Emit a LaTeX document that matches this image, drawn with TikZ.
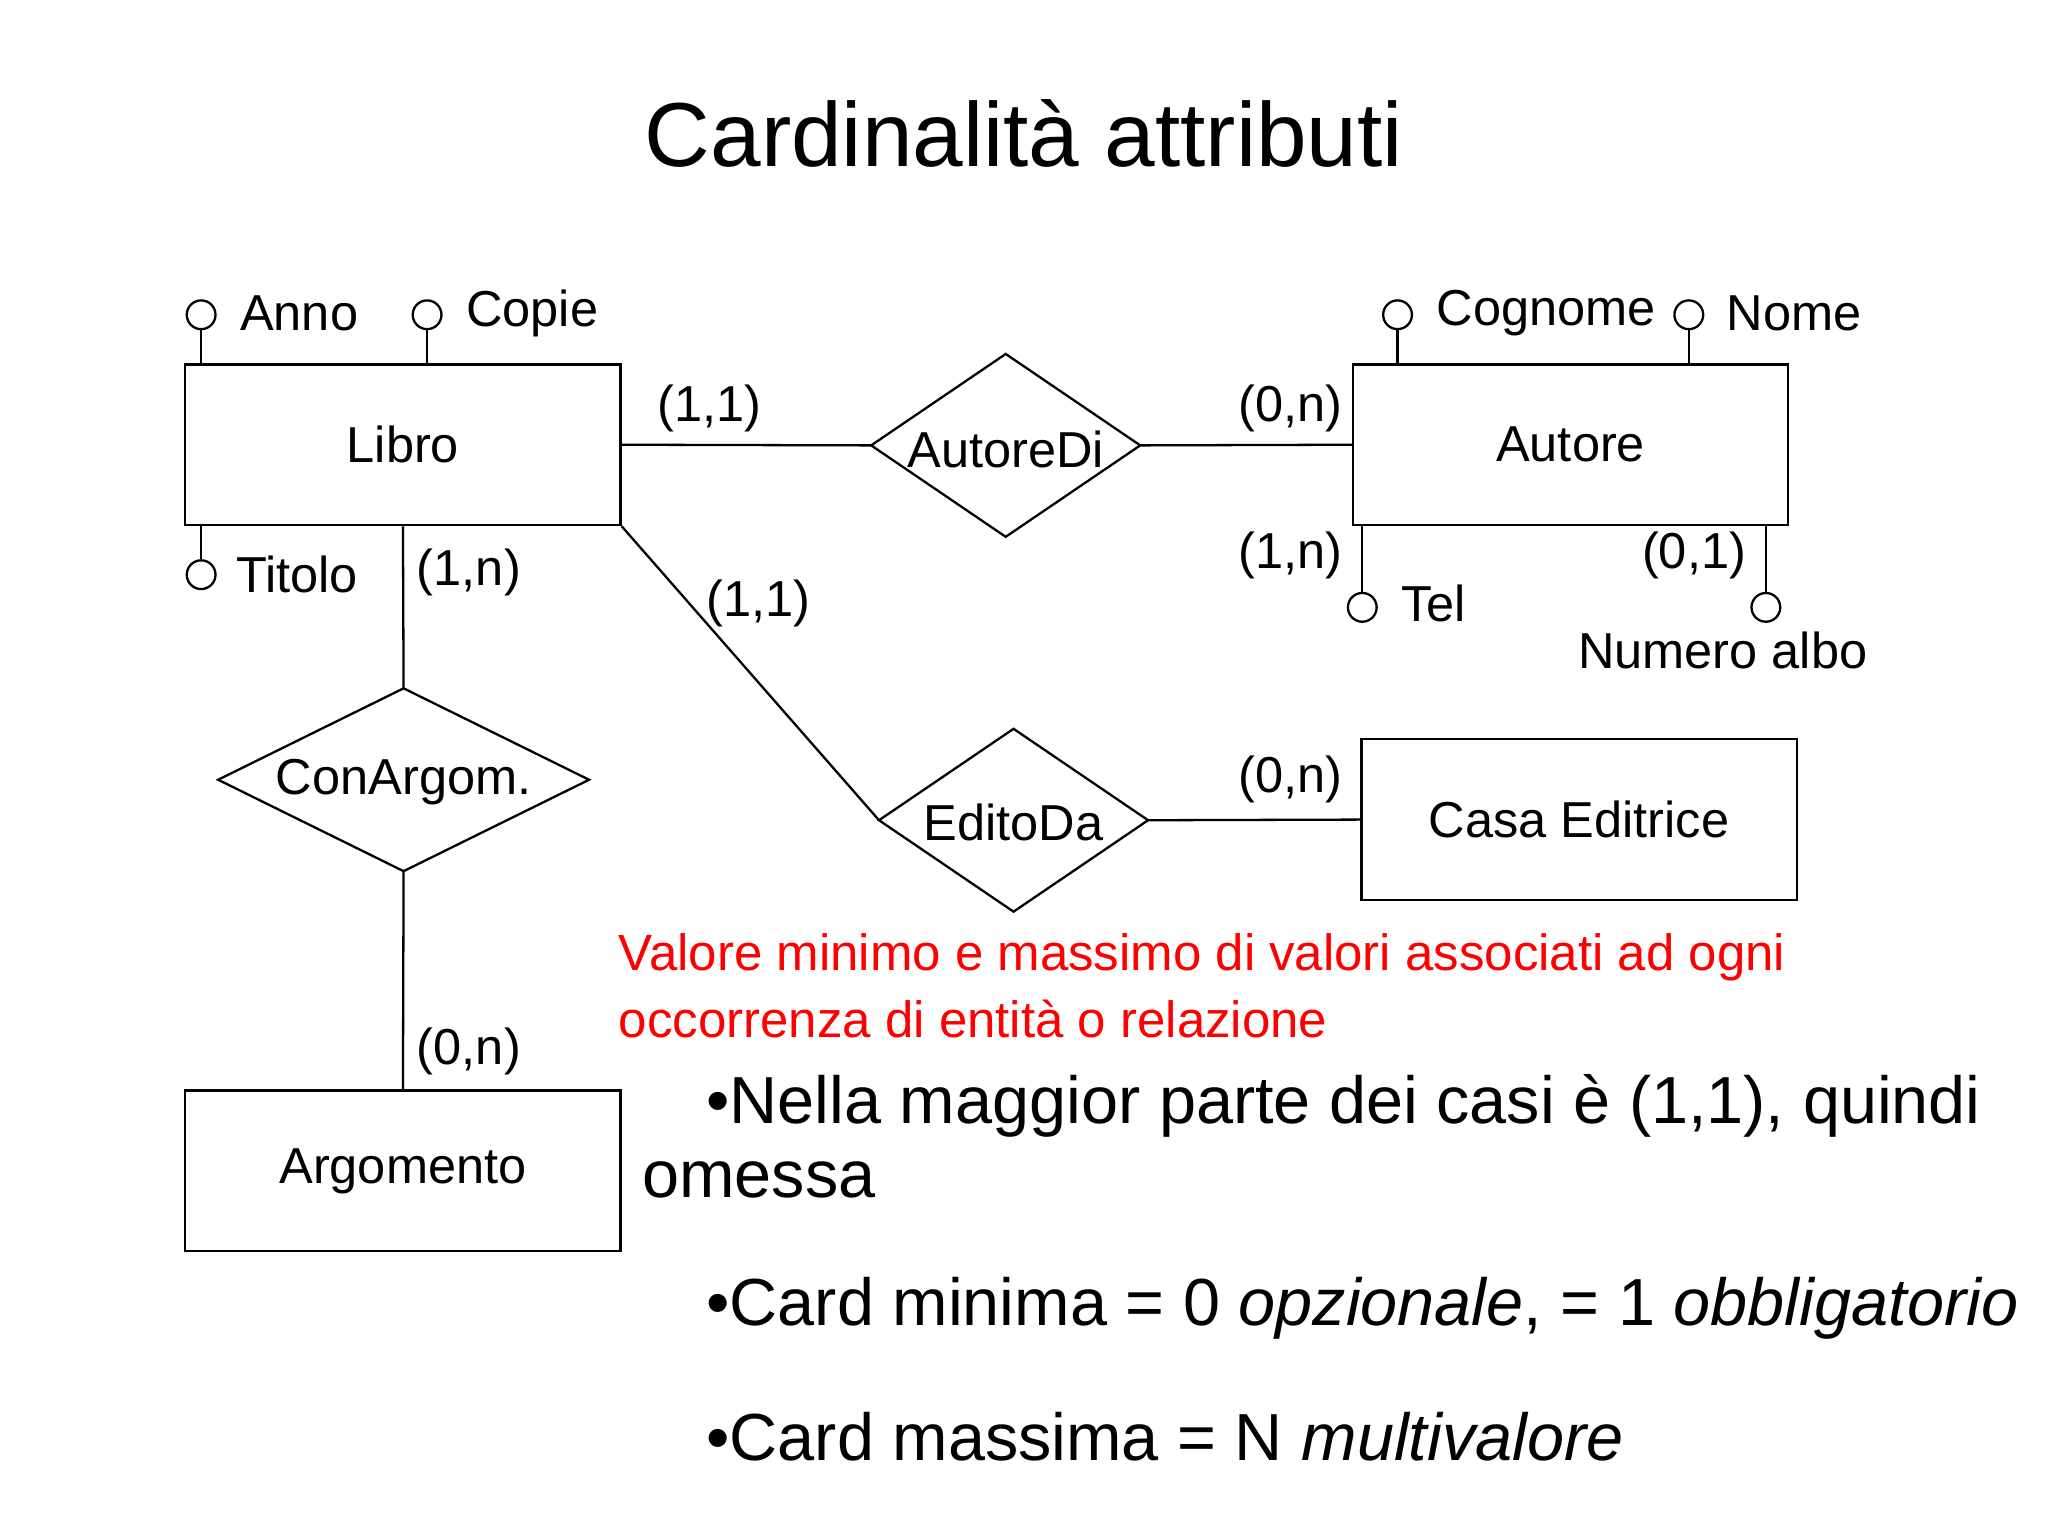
\documentclass[tikz,border=0pt]{standalone}
\usepackage{fontspec}
\setmainfont{Liberation Sans}
\begin{document}
\begin{tikzpicture}[x=0.01cm,y=-0.01cm,line width=0.5pt,
  ent/.style={draw,minimum width=3.33cm,minimum height=1.23cm,font=\fontsize{11}{13}\selectfont,inner sep=0pt},
  lbl/.style={font=\fontsize{11}{13}\selectfont,inner sep=0pt},
  att/.style={draw,circle,minimum size=0.22cm,inner sep=0pt},
  blt/.style={font=\fontsize{14.5}{17}\selectfont,inner sep=0pt,anchor=west}]
\useasboundingbox (0,0) rectangle (1568,1176);
\node[font=\fontsize{19.8}{24}\selectfont] (title) at (784,102) {Cardinalità attributi};
% entities
\node[ent] (libro) at (308.5,340.5) {Libro};
\node[ent] (arg) at (308.5,896.5) {Argomento};
\node[ent] (autore) at (1202.5,340.5) {Autore};
\node[ent] (casa) at (1209,627.5) {Casa Editrice};
% relations (diamonds drawn as polygons)
\draw (667,341) coordinate (autdiW) -- (770,271) coordinate (autdiN) -- (873,341) coordinate (autdiE) -- (770,411) -- cycle;
\node[lbl] (autdi) at (770,344) {AutoreDi};
\draw (673,628) coordinate (editoW) -- (776,558) -- (879,628) coordinate (editoE) -- (776,698) -- cycle;
\node[lbl] (edito) at (776,630) {EditoDa};
\draw (167,597) -- (309,527) coordinate (conargN) -- (451,597) -- (309,667) coordinate (conargS) -- cycle;
\node[lbl] (conarg) at (309,599) {ConArgom.};
% connectors
\draw (libro.east) -- (autdiW);
\draw (autdiE) -- (autore.west);
\draw (libro.south east) -- (editoW);
\draw (editoE) -- (casa.west);
\draw (libro.south) -- (conargN);
\draw (conargS) -- (arg.north);
% cardinalities
\node[lbl] (c1) at (543,313) {(1,1)};
\node[lbl] (c2) at (988,313) {(0,n)};
\node[lbl] (c3) at (581,462) {(1,1)};
\node[lbl] (c4) at (988,597) {(0,n)};
\node[lbl] (c5) at (359,438) {(1,n)};
\node[lbl] (c6) at (359,805) {(0,n)};
\node[lbl] (c7) at (988,425) {(1,n)};
\node[lbl] (c8) at (1297,425) {(0,1)};
% attributes
\node[att] (anno) at (154,241) {};
\coordinate (annoL) at (154,279);
\draw (anno.south) -- (annoL);
\node[lbl,anchor=west] (annoT) at (183,240) {Anno};
\node[att] (copie) at (327,241) {};
\coordinate (copieL) at (327,279);
\draw (copie.south) -- (copieL);
\node[lbl,anchor=west] (copieT) at (356,240) {Copie};
\node[att] (titolo) at (154,440) {};
\coordinate (titoloL) at (154,402);
\draw (titolo.north) -- (titoloL);
\node[lbl,anchor=west] (titoloT) at (180,440) {Titolo};
\node[att] (cogn) at (1070,241) {};
\coordinate (cognL) at (1070,279);
\draw (cogn.south) -- (cognL);
\node[lbl,anchor=west] (cognT) at (1099,240) {Cognome};
\node[att] (nome) at (1293,241) {};
\coordinate (nomeL) at (1293,279);
\draw (nome.south) -- (nomeL);
\node[lbl,anchor=west] (nomeT) at (1321,240) {Nome};
\node[att] (tel) at (1043,465) {};
\coordinate (telL) at (1043,402);
\draw (tel.north) -- (telL);
\node[lbl,anchor=west] (telT) at (1072,462) {Tel};
\node[att] (num) at (1352,465) {};
\coordinate (numL) at (1352,402);
\draw (num.north) -- (numL);
\node[lbl] (numT) at (1319,498) {Numero albo};
% red text
\node[lbl,anchor=west,text=red,font=\fontsize{11.1}{13}\selectfont] (r1) at (473,733) {Valore minimo e massimo di valori associati ad ogni};
\node[lbl,anchor=west,text=red,font=\fontsize{11.1}{13}\selectfont] (r2) at (473,780) {occorrenza di entità o relazione};
% bullets
\node[blt] (b1) at (540,847) {•Nella maggior parte dei casi è (1,1), quindi};
\node[blt] (b1b) at (491,903) {omessa};
\node[blt] (b2) at (540,1002) {•Card minima = 0 \textit{opzionale}, = 1 \textit{obbligatorio}};
\node[blt] (b3) at (540,1100) {•Card massima = N \textit{multivalore}};
\end{tikzpicture}
\end{document}
